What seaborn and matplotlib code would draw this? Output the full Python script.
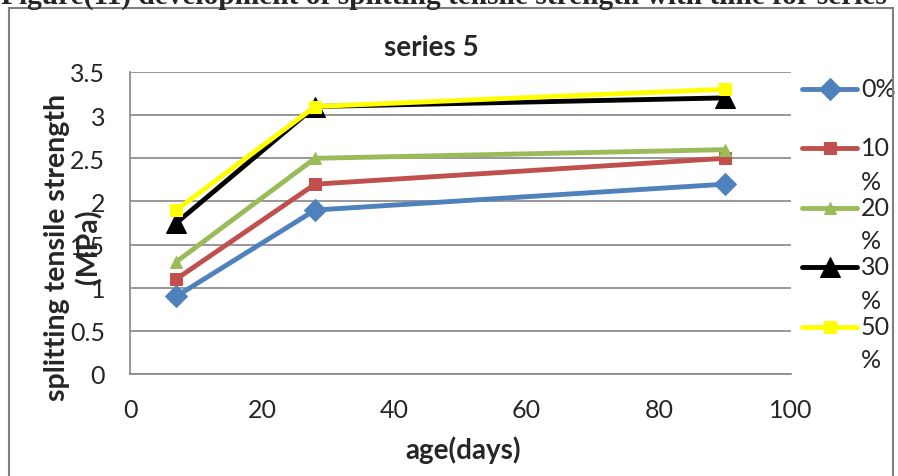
import matplotlib
matplotlib.use("Agg")
import matplotlib.pyplot as plt
import matplotlib.patches as mpatches
from matplotlib.legend_handler import HandlerLine2D
import pandas as pd
import seaborn as sns

# data
age_days = [7, 28, 90]
series_names = ["0%", "10%", "20%", "30%", "50%"]
legend_labels = ["0%\n ", "10\n%", "20\n%", "30\n%", "50\n%"]
strength_0 = [0.9, 1.9, 2.2]
strength_10 = [1.1, 2.2, 2.5]
strength_20 = [1.3, 2.5, 2.6]
strength_30 = [1.75, 3.1, 3.2]
strength_50 = [1.9, 3.1, 3.3]

all_values = [strength_0, strength_10, strength_20, strength_30, strength_50]
rows = []
for name, vals in zip(series_names, all_values):
    for a, v in zip(age_days, vals):
        rows.append({"age": a, "strength": v, "mix": name})
df = pd.DataFrame(rows)

colors = ["#4F81BD", "#C0504D", "#9BBB59", "#000000", "#FFFF00"]
markers = ["D", "s", "^", "^", "s"]
msizes = [11, 8.5, 8.5, 15, 9]

sns.set_style("white")
plt.rcParams["font.family"] = ["Lato", "DejaVu Sans"]

fig = plt.figure(figsize=(8.98, 4.77), dpi=100)
ax = fig.add_axes([130 / 898, 1 - 375 / 477, 661 / 898, 302 / 477])

for name, col, mk, ms, lab in zip(series_names, colors, markers, msizes, legend_labels):
    sub = df[df["mix"] == name]
    sns.lineplot(data=sub, x="age", y="strength", ax=ax, color=col, marker=mk,
                 markersize=ms, markeredgecolor=col, linewidth=3.5, label=lab)

ax.set_xlim(0, 100)
ax.set_ylim(0, 3.5)
ax.set_xticks([0, 20, 40, 60, 80, 100])
ax.set_yticks([0, 0.5, 1, 1.5, 2, 2.5, 3, 3.5])
ax.set_yticklabels(["0", "0.5", "1", "1.5", "2", "2.5", "3", "3.5"])
ax.tick_params(axis="both", labelsize=18, length=0)
ax.tick_params(axis="y", pad=18)
ax.tick_params(axis="x", pad=17)
ax.yaxis.grid(True, color="#868686", linewidth=1.2)
ax.xaxis.grid(False)
for s in ["top", "right"]:
    ax.spines[s].set_visible(False)
for s in ["left", "bottom"]:
    ax.spines[s].set_color("#868686")
    ax.spines[s].set_linewidth(1.2)

ax.set_xlabel("age(days)", fontsize=20, fontweight="bold")
ax.xaxis.set_label_coords((463 - 130) / 661, -(436 - 375) / 302)
ax.set_ylabel("splitting tensile strength\n(MPa)", fontsize=20.5, fontweight="bold",
              linespacing=1.2)
ax.yaxis.set_label_coords((102 - 130) / 661, (375 - 247) / 302)

fig.text(431 / 898, 1 - 48 / 477, "series 5", fontsize=20, fontweight="bold",
         ha="center", va="center")


class FirstLineHandler(HandlerLine2D):
    def create_artists(self, legend, orig_handle, xdescent, ydescent,
                       width, height, fontsize, trans):
        arts = super().create_artists(legend, orig_handle, xdescent, ydescent,
                                      width, height, fontsize, trans)
        for a in arts:
            a.set_ydata([y + 0.68 * fontsize for y in a.get_ydata()])
        return arts


handles, labels = ax.get_legend_handles_labels()
leg = ax.legend(handles, labels, loc="upper left", bbox_to_anchor=(802 / 898, 1 - 78 / 477),
                bbox_transform=fig.transFigure, frameon=False, fontsize=18,
                handlelength=2.2, handletextpad=0.15, labelspacing=0.12,
                borderaxespad=0, borderpad=0,
                handler_map={l: FirstLineHandler() for l in handles})
for t in leg.get_texts():
    t.set_linespacing(1.55)

# outer frame of the embedded chart and the clipped caption above it
fig.patches.append(mpatches.Rectangle((9 / 898, -0.1), 884 / 898, 1.1 - 8.5 / 477,
                                      transform=fig.transFigure, fill=False,
                                      edgecolor="#808080", linewidth=1.5))
fig.text(1 / 898, 1 - 4 / 477,
         "Figure(11) development of splitting tensile strength with time for series",
         fontsize=21.2, fontweight="bold", family=["Liberation Serif", "DejaVu Serif"],
         ha="left", va="baseline")

fig.savefig("out.png", dpi=100)
